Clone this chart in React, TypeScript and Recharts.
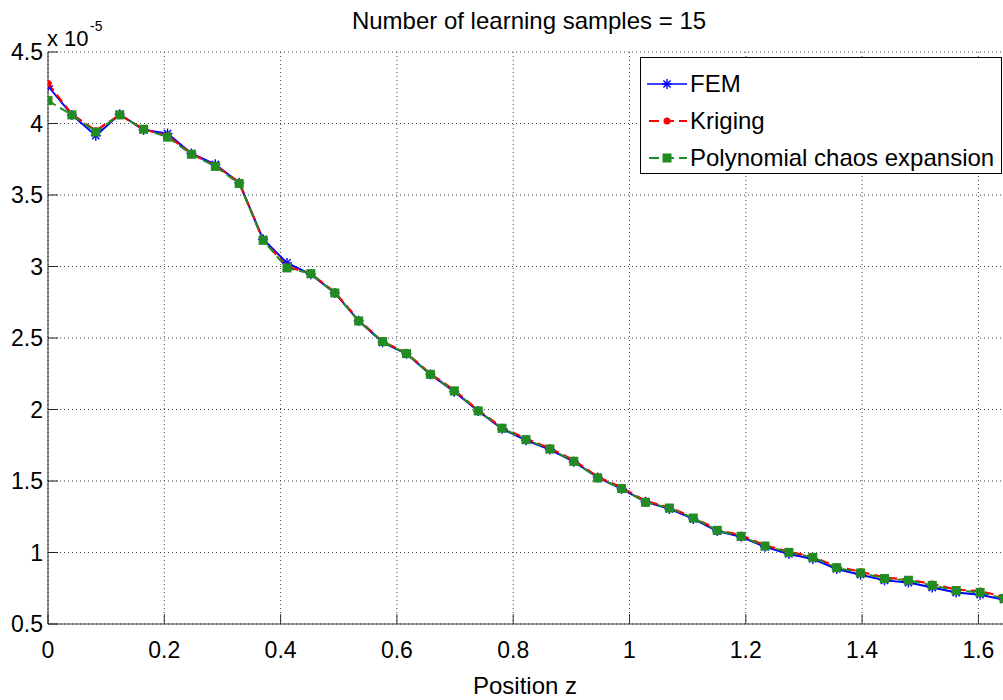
import React from 'react';
import { LineChart, Line, XAxis, YAxis, CartesianGrid } from 'recharts';

// positions along z (41 samples)
const zPos = [
  0, 0.0411, 0.0822, 0.1233, 0.1644, 0.2055, 0.2466, 0.2877, 0.3288, 0.3699,
  0.411, 0.4521, 0.4932, 0.5343, 0.5754, 0.6165, 0.6576, 0.6987, 0.7398, 0.7809,
  0.822, 0.8631, 0.9042, 0.9453, 0.9864, 1.0275, 1.0686, 1.1097, 1.1508, 1.1919,
  1.233, 1.2741, 1.3152, 1.3563, 1.3974, 1.4385, 1.4796, 1.5207, 1.5618, 1.6029,
  1.644,
];

// values in units of 1e-5
const femValues = [
  4.262, 4.06, 3.915, 4.065, 3.955, 3.93, 3.79, 3.715, 3.585, 3.19,
  3.025, 2.945, 2.815, 2.62, 2.47, 2.39, 2.245, 2.125, 1.99, 1.865,
  1.785, 1.72, 1.635, 1.525, 1.445, 1.355, 1.305, 1.235, 1.15, 1.11,
  1.04, 0.99, 0.955, 0.885, 0.845, 0.805, 0.79, 0.755, 0.72, 0.705,
  0.67,
];

const krigingValues = [
  4.279, 4.065, 3.95, 4.06, 3.96, 3.915, 3.79, 3.705, 3.59, 3.185,
  3.0, 2.95, 2.82, 2.625, 2.475, 2.395, 2.25, 2.135, 1.995, 1.875,
  1.795, 1.73, 1.645, 1.53, 1.455, 1.36, 1.315, 1.245, 1.16, 1.12,
  1.05, 1.005, 0.97, 0.9, 0.865, 0.825, 0.81, 0.78, 0.74, 0.73,
  0.69,
];

const pceValues = [
  4.16, 4.06, 3.94, 4.06, 3.96, 3.905, 3.785, 3.7, 3.58, 3.183,
  2.99, 2.95, 2.815, 2.619, 2.475, 2.391, 2.246, 2.13, 1.99, 1.869,
  1.789, 1.724, 1.638, 1.521, 1.447, 1.351, 1.311, 1.241, 1.155, 1.113,
  1.045, 1.001, 0.966, 0.894, 0.857, 0.818, 0.806, 0.77, 0.734, 0.721,
  0.678,
];

const xTicks = [0, 0.2, 0.4, 0.6, 0.8, 1, 1.2, 1.4, 1.6];
const yTicks = [0.5, 1, 1.5, 2, 2.5, 3, 3.5, 4, 4.5];

const seriesNames = ['FEM', 'Kriging', 'Polynomial chaos expansion'];

const data = zPos.map((z, i) => ({
  z,
  fem: femValues[i],
  kriging: krigingValues[i],
  pce: pceValues[i],
}));

const BLUE = '#0000ff';
const RED = '#ff0000';
const GREEN = '#228b22';
const FONT = '"Liberation Sans", Arial, sans-serif';

const StarDot = (props: any) => {
  const { cx, cy } = props;
  if (cx == null || cy == null) return null;
  const r = 5;
  const d = 3.6;
  return (
    <g key={`s-${props.index}`} stroke={BLUE} strokeWidth={1.4}>
      <line x1={cx - r} y1={cy} x2={cx + r} y2={cy} />
      <line x1={cx} y1={cy - r} x2={cx} y2={cy + r} />
      <line x1={cx - d} y1={cy - d} x2={cx + d} y2={cy + d} />
      <line x1={cx - d} y1={cy + d} x2={cx + d} y2={cy - d} />
    </g>
  );
};

const RoundDot = (props: any) => {
  const { cx, cy } = props;
  if (cx == null || cy == null) return null;
  return <circle key={`c-${props.index}`} cx={cx} cy={cy} r={3.5} fill={RED} />;
};

const SquareDot = (props: any) => {
  const { cx, cy } = props;
  if (cx == null || cy == null) return null;
  return <rect key={`q-${props.index}`} x={cx - 4.5} y={cy - 4.5} width={9} height={9} fill={GREEN} />;
};

const LegendBox = () => (
  <div
    style={{
      position: 'absolute',
      left: 640,
      top: 57,
      width: 362,
      height: 117,
      border: '1px solid #000',
      background: '#fff',
      boxSizing: 'border-box',
      fontFamily: FONT,
      fontSize: 24,
    }}
  >
    {seriesNames.map((name, i) => (
      <div
        key={name}
        style={{
          position: 'absolute',
          left: 6,
          top: 26 + i * 37 - 14,
          height: 28,
          display: 'flex',
          alignItems: 'center',
          whiteSpace: 'nowrap',
        }}
      >
        <svg width={43} height={20}>
          {i === 0 && (
            <>
              <line x1={0} y1={10} x2={40} y2={10} stroke={BLUE} strokeWidth={1.6} />
              <StarDot cx={20} cy={10} index={0} />
            </>
          )}
          {i === 1 && (
            <>
              <line x1={2} y1={10} x2={40} y2={10} stroke={RED} strokeWidth={2.2} strokeDasharray="10 5" />
              <RoundDot cx={20} cy={10} index={0} />
            </>
          )}
          {i === 2 && (
            <>
              <line x1={2} y1={10} x2={40} y2={10} stroke={GREEN} strokeWidth={2} strokeDasharray="10 5" />
              <SquareDot cx={20} cy={10} index={0} />
            </>
          )}
        </svg>
        <span style={{ lineHeight: 1 }}>{name}</span>
      </div>
    ))}
  </div>
);

const tickStyle = { fill: '#000', fontSize: 23, fontFamily: FONT };

export default function App() {
  return (
    <div
      style={{
        position: 'fixed',
        left: 0,
        top: 0,
        width: 1003,
        height: 700,
        overflow: 'hidden',
        background: '#fff',
        fontFamily: FONT,
      }}
    >
      <div
        style={{
          position: 'absolute',
          left: 529,
          top: 9,
          transform: 'translateX(-50%)',
          fontSize: 24,
          lineHeight: 1,
          whiteSpace: 'nowrap',
          color: '#000',
        }}
      >
        Number of learning samples = 15
      </div>
      <div style={{ position: 'absolute', left: 47, top: 28, fontSize: 22, lineHeight: 1, color: '#000' }}>x 10</div>
      <div style={{ position: 'absolute', left: 90, top: 19, fontSize: 14, lineHeight: 1, color: '#000' }}>-5</div>

      <LineChart width={1008} height={700} data={data} margin={{ top: 52, right: 4, left: 8, bottom: 0 }}>
        <CartesianGrid stroke="#444" strokeDasharray="1 3" />
        <XAxis
          dataKey="z"
          type="number"
          domain={[0, 1.644]}
          ticks={xTicks}
          allowDataOverflow
          height={76}
          stroke="#333"
          tickSize={-10}
          tickMargin={28}
          tick={tickStyle}
        />
        <XAxis
          xAxisId="top"
          orientation="top"
          dataKey="z"
          type="number"
          domain={[0, 1.644]}
          ticks={xTicks}
          allowDataOverflow
          height={0}
          stroke="#222"
          tickSize={-10}
          tickFormatter={() => ''}
        />
        <YAxis
          type="number"
          domain={[0.5, 4.5]}
          ticks={yTicks}
          allowDataOverflow
          width={40}
          stroke="#222"
          tickSize={-10}
          tickMargin={15}
          tick={tickStyle}
        />
        <Line
          dataKey="fem"
          name={seriesNames[0]}
          type="linear"
          stroke={BLUE}
          strokeWidth={2}
          dot={StarDot}
          activeDot={false}
          isAnimationActive={false}
        />
        <Line
          dataKey="kriging"
          name={seriesNames[1]}
          type="linear"
          stroke={RED}
          strokeWidth={2.2}
          strokeDasharray="9 5"
          dot={RoundDot}
          activeDot={false}
          isAnimationActive={false}
        />
        <Line
          dataKey="pce"
          name={seriesNames[2]}
          type="linear"
          stroke={GREEN}
          strokeWidth={2}
          strokeDasharray="9 5"
          dot={SquareDot}
          activeDot={false}
          isAnimationActive={false}
        />
      </LineChart>

      <LegendBox />

      <div
        style={{
          position: 'absolute',
          left: 525,
          top: 674,
          transform: 'translateX(-50%)',
          fontSize: 24,
          lineHeight: 1,
          whiteSpace: 'nowrap',
          color: '#000',
        }}
      >
        Position z
      </div>
    </div>
  );
}
